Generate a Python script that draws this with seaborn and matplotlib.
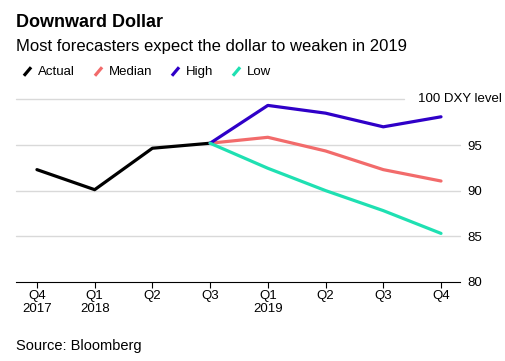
import pandas as pd
import matplotlib.pyplot as plt
import seaborn as sns
from matplotlib.lines import Line2D

sns.set_theme(style="white")
plt.rcParams['font.family'] = ['Liberation Sans', 'DejaVu Sans']
plt.rcParams['text.color'] = 'black'
plt.rcParams['xtick.color'] = 'black'
plt.rcParams['ytick.color'] = 'black'

# quarters, Q4 2017 .. Q4 2019
quarters = ["Q4\n2017", "Q1\n2018", "Q2", "Q3", "Q1\n2019", "Q2", "Q3", "Q4"]
actual_x = [0, 1, 2, 3]
actual = [92.3, 90.1, 94.65, 95.2]
forecast_x = [3, 4, 5, 6, 7]
median = [95.2, 95.85, 94.35, 92.3, 91.05]
high = [95.2, 99.35, 98.5, 97.0, 98.1]
low = [95.2, 92.45, 90.0, 87.8, 85.3]

series = ["Actual", "Median", "High", "Low"]
colors = ["#000000", "#f26b6b", "#2f00c8", "#1fe0b2"]
yticks = [80, 85, 90, 95, 100]

rows = []
for name, xs, ys in [("Actual", actual_x, actual), ("Median", forecast_x, median),
                     ("High", forecast_x, high), ("Low", forecast_x, low)]:
    for x, y in zip(xs, ys):
        rows.append({"q": x, "value": y, "series": name})
df = pd.DataFrame(rows)

fig = plt.figure(figsize=(5.05, 3.61), dpi=100)
ax = fig.add_axes([0.032, 0.2197, 0.879, 0.5047])

# gridlines (100 line stops short of its label)
for v in yticks[1:-1]:
    ax.axhline(v, color="#d9d9d9", lw=1, zorder=0)
ax.axhline(100, xmax=0.874, color="#d9d9d9", lw=1, zorder=0)

sns.lineplot(data=df, x="q", y="value", hue="series", hue_order=series,
             palette=dict(zip(series, colors)), linewidth=2.3, ax=ax,
             legend=False, sort=False)
for ln in ax.lines:
    ln.set_clip_on(False)
    ln.set_zorder(3)

ax.set_xlim(-0.36, 7.33)
ax.set_ylim(80, 100)
ax.set_xticks(range(len(quarters)))
ax.set_xticklabels(quarters, fontsize=9.5, linespacing=1.1)
ax.set_yticks(yticks[:-1])
ax.set_yticklabels([str(v) for v in yticks[:-1]], fontsize=9.5)
ax.yaxis.tick_right()
ax.tick_params(axis="y", length=0, pad=5)
ax.tick_params(axis="x", length=4, width=0.8, color="black", pad=2, bottom=True)
for s in ["top", "left", "right"]:
    ax.spines[s].set_visible(False)
ax.spines["bottom"].set_color("black")
ax.spines["bottom"].set_linewidth(0.8)
ax.set_xlabel("")
ax.set_ylabel("")
ax.text(0.905, 100, "100 DXY level", transform=ax.get_yaxis_transform(),
        fontsize=9.5, va="center", ha="left")

fig.text(0.031, 0.925, "Downward Dollar", fontsize=13, fontweight="bold")
fig.text(0.031, 0.86, "Most forecasters expect the dollar to weaken in 2019", fontsize=12)
fig.text(0.031, 0.03, "Source: Bloomberg", fontsize=10.5)

handles = [Line2D([], [], color=c, linestyle="none", marker=(2, 0, -40),
                  markersize=8, markeredgewidth=2.3) for c in colors]
fig.legend(handles, series, loc="center left", bbox_to_anchor=(0.03, 0.80),
           ncol=4, frameon=False, fontsize=9.5, handlelength=1.0,
           handletextpad=0.35, columnspacing=1.2, borderaxespad=0)

fig.savefig("out.png", dpi=100)
